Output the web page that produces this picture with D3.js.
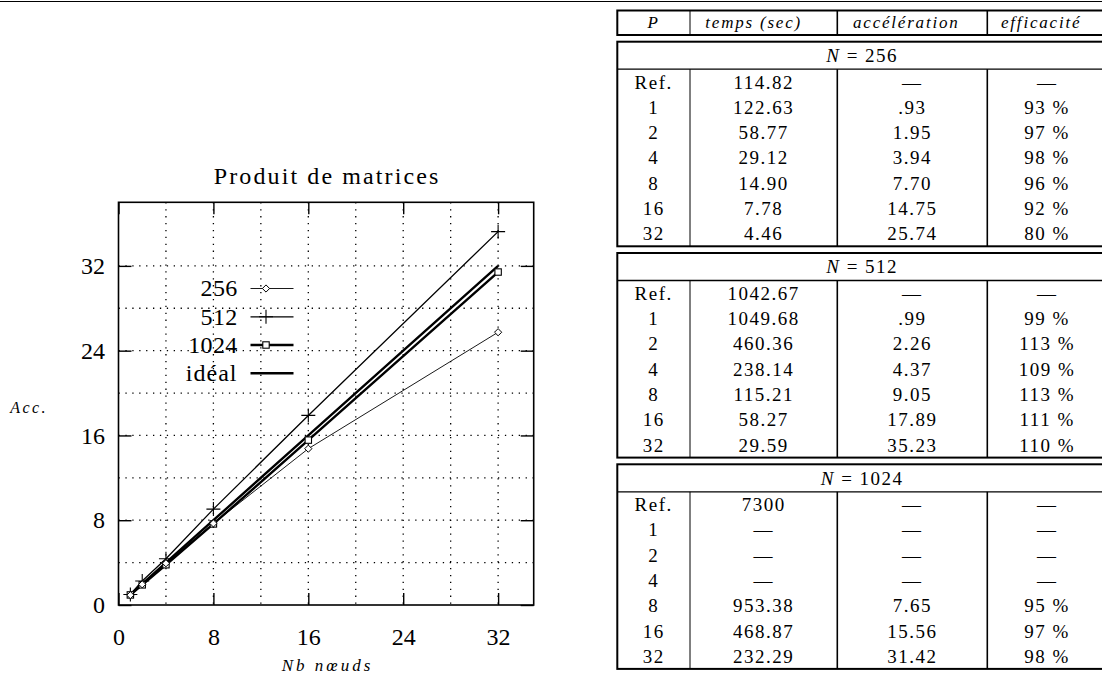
<!DOCTYPE html>
<html><head><meta charset="utf-8">
<script src="https://cdn.jsdelivr.net/npm/d3@7"></script>
<style>
html,body{margin:0;padding:0;background:#fff;}
svg{display:block;}
</style></head>
<body>
<svg id="c" width="1102" height="693"></svg>
<script>
// ---- chart data ----
const P = [1, 2, 4, 8, 16, 32];
const acc256 = [0.93, 1.95, 3.94, 7.70, 14.75, 25.74];
const acc512 = [0.99, 2.26, 4.37, 9.05, 17.89, 35.23];
const acc1024 = [0.95, 1.90, 3.80, 7.65, 15.56, 31.42];
const accIdeal = [1, 2, 4, 8, 16, 32];
const xTicks = [0, 8, 16, 24, 32];
const yTicks = [0, 8, 16, 24, 32];
const gridX = [4, 8, 12, 16, 20, 24, 28, 32];
const gridY = [4, 8, 12, 16, 20, 24, 28, 32];
const legendLabels = ["256", "512", "1024", "idéal"];

// ---- table data ----
const tableHeaders = ["P", "temps (sec)", "accélération", "efficacité"];
const rowLabels = ["Ref.", "1", "2", "4", "8", "16", "32"];
const sectionTitles = ["256", "512", "1024"];
const time256 = ["114.82", "122.63", "58.77", "29.12", "14.90", "7.78", "4.46"];
const spd256 = ["—", ".93", "1.95", "3.94", "7.70", "14.75", "25.74"];
const eff256 = ["—", "93 %", "97 %", "98 %", "96 %", "92 %", "80 %"];
const time512 = ["1042.67", "1049.68", "460.36", "238.14", "115.21", "58.27", "29.59"];
const spd512 = ["—", ".99", "2.26", "4.37", "9.05", "17.89", "35.23"];
const eff512 = ["—", "99 %", "113 %", "109 %", "113 %", "111 %", "110 %"];
const time1024 = ["7300", "—", "—", "—", "953.38", "468.87", "232.29"];
const spd1024 = ["—", "—", "—", "—", "7.65", "15.56", "31.42"];
const eff1024 = ["—", "—", "—", "—", "95 %", "97 %", "98 %"];

const FONT = "Liberation Serif";
const svg = d3.select("#c");

// top rule
svg.append("line").attr("x1", 0).attr("x2", 1102).attr("y1", 1.5).attr("y2", 1.5)
  .attr("stroke", "#000").attr("stroke-width", 1.2);

// ---------------- chart ----------------
const L = 118.5, R = 533.7, T = 202.3, B = 605;
const x = d3.scaleLinear().domain([0, 35]).range([L, R]);
const y = d3.scaleLinear().domain([0, 38]).range([B, T]);
const g = svg.append("g");

// grid
g.selectAll(".gx").data(gridX).join("line")
  .attr("x1", d => x(d)).attr("x2", d => x(d)).attr("y1", T).attr("y2", B)
  .attr("stroke", "#000").attr("stroke-width", 1.3).attr("stroke-dasharray", "1.3,5.6");
g.selectAll(".gy").data(gridY).join("line")
  .attr("y1", d => y(d)).attr("y2", d => y(d)).attr("x1", L).attr("x2", R)
  .attr("stroke", "#000").attr("stroke-width", 1.3).attr("stroke-dasharray", "1.3,5.6");

// axes
const fmt = d3.format("d");
const ax = g.append("g").attr("transform", `translate(0,${B})`)
  .call(d3.axisBottom(x).tickValues(xTicks).tickFormat(fmt).tickSize(-12).tickPadding(23));
const axT = g.append("g").attr("transform", `translate(0,${T})`)
  .call(d3.axisTop(x).tickValues(xTicks).tickFormat("").tickSize(-12));
const ay = g.append("g").attr("transform", `translate(${L},0)`)
  .call(d3.axisLeft(y).tickValues(yTicks).tickFormat(fmt).tickSize(-13).tickPadding(13.5));
const ayR = g.append("g").attr("transform", `translate(${R},0)`)
  .call(d3.axisRight(y).tickValues(yTicks).tickFormat("").tickSize(-13));
[ax, axT, ay, ayR].forEach(a => {
  a.attr("font-family", FONT).attr("font-size", 24);
  a.select(".domain").remove();
  a.selectAll("line").attr("stroke", "#000").attr("stroke-width", 1.4);
  a.selectAll("text").attr("font-family", FONT).attr("font-size", 24).attr("fill", "#000");
});

// border
g.append("rect").attr("x", L).attr("y", T).attr("width", R - L).attr("height", B - T)
  .attr("fill", "none").attr("stroke", "#000").attr("stroke-width", 1.6);

// title & labels
svg.append("text").attr("x", (L + R) / 2 + 1).attr("y", 184).attr("text-anchor", "middle")
  .attr("font-family", FONT).attr("font-size", 24).style("letter-spacing", "2.1px").text("Produit de matrices");
svg.append("text").attr("x", 29).attr("y", 407).attr("dy", "0.35em").attr("text-anchor", "middle")
  .attr("font-family", FONT).attr("font-size", 16).attr("font-style", "italic").style("letter-spacing", "2.4px").text("Acc.");
svg.append("text").attr("x", 327.5).attr("y", 665).attr("dy", "0.35em").attr("text-anchor", "middle")
  .attr("font-family", FONT).attr("font-size", 17).attr("font-style", "italic").style("letter-spacing", "3px").text("Nb nœuds");

// series
const series = [
  {vals: acc256, w: 0.9, mark: "diamond"},
  {vals: acc512, w: 1.3, mark: "plus"},
  {vals: acc1024, w: 2.4, mark: "square"},
  {vals: accIdeal, w: 2.4, mark: null}
];
const line = d3.line().x(d => x(d[0])).y(d => y(d[1]));

function drawMark(sel, type, cx, cy) {
  if (type === "diamond") {
    sel.append("path").attr("d", `M${cx},${cy - 3.6}L${cx + 3.6},${cy}L${cx},${cy + 3.6}L${cx - 3.6},${cy}Z`)
      .attr("fill", "#fff").attr("stroke", "#000").attr("stroke-width", 1);
  } else if (type === "plus") {
    sel.append("path").attr("d", `M${cx - 7},${cy}H${cx + 7}M${cx},${cy - 7}V${cy + 7}`)
      .attr("fill", "none").attr("stroke", "#000").attr("stroke-width", 1.1);
  } else if (type === "square") {
    sel.append("rect").attr("x", cx - 3.2).attr("y", cy - 3.2).attr("width", 6.4).attr("height", 6.4)
      .attr("fill", "#fff").attr("stroke", "#000").attr("stroke-width", 1.1);
  }
}

[3, 2, 1, 0].forEach(i => {
  const s = series[i];
  g.append("path").datum(P.map((p, k) => [p, s.vals[k]])).attr("d", line)
    .attr("fill", "none").attr("stroke", "#000").attr("stroke-width", s.w).attr("stroke-linejoin", "round");
});
[2, 1, 0].forEach(i => {
  const s = series[i];
  const mg = g.append("g");
  P.forEach((p, k) => drawMark(mg, s.mark, x(p), y(s.vals[k])));
});

// legend
const legY = [288.5, 316.8, 345, 373.3];
legendLabels.forEach((lab, i) => {
  const s = series[i];
  svg.append("text").attr("x", 237.5).attr("y", legY[i]).attr("dy", "0.33em").attr("text-anchor", "end")
    .attr("font-family", FONT).attr("font-size", 24).style("letter-spacing", i === 3 ? "1px" : "0.3px").text(lab);
  svg.append("line").attr("x1", 250.5).attr("x2", 293.5).attr("y1", legY[i]).attr("y2", legY[i])
    .attr("stroke", "#000").attr("stroke-width", s.w);
  if (s.mark) drawMark(svg, s.mark, 266, legY[i]);
});

// ---------------- table ----------------
const colX = [617.3, 690, 837.3, 987.3, 1107];
const colW = [1, 1.6, 1.6];
const headerShift = [0, -10, -6, -6];
const tg = svg.append("g");
function cellText(cx, cy, t, italic) {
  const el = tg.append("text").attr("x", cx).attr("y", cy).attr("dy", "0.35em").attr("text-anchor", "middle")
    .attr("font-family", FONT).attr("font-size", italic ? 17 : 19)
    .style("letter-spacing", italic ? "1.8px" : "1.5px");
  if (italic) el.attr("font-style", "italic");
  el.text(t);
  return el;
}
function hline(x1, x2, yy, w) {
  tg.append("line").attr("x1", x1).attr("x2", x2).attr("y1", yy).attr("y2", yy).attr("stroke", "#000").attr("stroke-width", w);
}
function vline(xx, y1, y2, w) {
  tg.append("line").attr("x1", xx).attr("x2", xx).attr("y1", y1).attr("y2", y2).attr("stroke", "#000").attr("stroke-width", w);
}
function box(y1, y2) {
  tg.append("rect").attr("x", colX[0]).attr("y", y1).attr("width", colX[4] - colX[0]).attr("height", y2 - y1)
    .attr("fill", "none").attr("stroke", "#000").attr("stroke-width", 2);
}
const hT = 10.5, hB = 35;
box(hT, hB);
[1, 2, 3].forEach(c => vline(colX[c], hT, hB, colW[c - 1]));
tableHeaders.forEach((h, c) => cellText((colX[c] + colX[c + 1]) / 2 + headerShift[c], (hT + hB) / 2 - 1, h, true));

const sectStarts = [41.7, 253, 464.3];
const nRowH = 27.5, rowH = 25.3;
const sections = [
  [time256, spd256, eff256],
  [time512, spd512, eff512],
  [time1024, spd1024, eff1024]
];
sections.forEach((cols, si) => {
  const top = sectStarts[si];
  const nb = top + nRowH;
  const bot = nb + rowH * rowLabels.length;
  box(top, bot);
  hline(colX[0], colX[4], nb, 1.3);
  [1, 2, 3].forEach(c => vline(colX[c], nb, bot, colW[c - 1]));
  const nt = tg.append("text").attr("x", (colX[0] + colX[4]) / 2).attr("y", top + nRowH / 2).attr("dy", "0.35em")
    .attr("text-anchor", "middle").attr("font-family", FONT).attr("font-size", 19).style("letter-spacing", "1.5px");
  nt.append("tspan").attr("font-style", "italic").text("N");
  nt.append("tspan").text(" = " + sectionTitles[si]);
  rowLabels.forEach((lab, r) => {
    const cy = nb + rowH * (r + 0.5);
    cellText((colX[0] + colX[1]) / 2, cy, lab, false);
    cols.forEach((col, c) => cellText((colX[c + 1] + colX[c + 2]) / 2, cy, col[r], false));
  });
});
</script>
</body></html>
